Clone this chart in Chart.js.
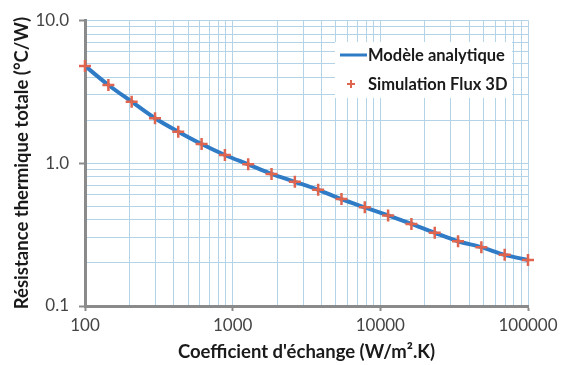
<!DOCTYPE html>
<html>
<head>
<meta charset="utf-8">
<script src="https://cdn.jsdelivr.net/npm/chart.js@4/dist/chart.umd.min.js"></script>
<style>
  html, body { margin: 0; padding: 0; background: #fff; }
  #wrap { width: 562px; height: 365px; position: relative; }
</style>
</head>
<body>
<div id="wrap"><canvas id="c"></canvas></div>
<script>
"use strict";

// coefficient d'échange (W/m².K)
const hValues = [100, 144, 207, 298, 428, 616, 886, 1274, 1833, 2637, 3793, 5456, 7848, 11288, 16238, 23357, 33598, 48329, 69519, 100000];
// modèle analytique (°C/W)
const modelValues = [4.79, 3.52, 2.69, 2.06, 1.66, 1.36, 1.14, 0.98, 0.84, 0.74, 0.65, 0.56, 0.49, 0.43, 0.375, 0.325, 0.284, 0.258, 0.228, 0.21];
// simulation Flux 3D (°C/W)
const fluxValues = [4.79, 3.52, 2.69, 2.06, 1.66, 1.36, 1.14, 0.98, 0.84, 0.74, 0.65, 0.56, 0.49, 0.43, 0.375, 0.325, 0.284, 0.258, 0.228, 0.21];

const xMajorTicks = [100, 1000, 10000, 100000];
const yMajorTicks = [0.1, 1, 10];
const yTickLabels = ["0.1", "1.0", "10.0"];

const FONT = "Lato, 'Open Sans', sans-serif";
const GRID = "#b3d3e6";
const AXIS = "#8a8a8a";
const BLUE = "#2f7bc6";
const RED = "#e0654f";

// decade ticks plus 2..9 subdivisions for the grid
function logTicks(majors) {
  const out = [];
  majors.forEach((m, i) => {
    out.push({ value: m, major: true });
    if (i < majors.length - 1) for (let k = 2; k <= 9; k++) out.push({ value: +(m * k).toPrecision(6), major: false });
  });
  return out;
}

const isMajor = (list, v) => list.some((m) => Math.abs(m - v) / m < 1e-6);

const legendBox = {
  id: "legendBox",
  afterDraw(chart) {
    const ctx = chart.ctx;
    ctx.save();
    ctx.fillStyle = "#fff";
    ctx.fillRect(335, 42, 177, 56);
    ctx.font = "bold 16.5px " + FONT;
    ctx.textBaseline = "middle";
    ctx.fillStyle = "#1a1a1a";
    const ds = chart.data.datasets;
    // line sample
    ctx.strokeStyle = BLUE;
    ctx.lineWidth = 3;
    ctx.beginPath();
    ctx.moveTo(340, 55);
    ctx.lineTo(367, 55);
    ctx.stroke();
    ctx.fillText(ds[0].label, 368, 56);
    // cross sample
    ctx.strokeStyle = RED;
    ctx.lineWidth = 2;
    ctx.beginPath();
    ctx.moveTo(347, 84);
    ctx.lineTo(355, 84);
    ctx.moveTo(351, 80);
    ctx.lineTo(351, 88);
    ctx.stroke();
    ctx.fillText(ds[1].label, 368, 85);
    ctx.restore();
  },
};

new Chart(document.getElementById("c"), {
  type: "line",
  data: {
    datasets: [
      {
        label: "Modèle analytique",
        data: hValues.map((x, i) => ({ x, y: modelValues[i] })),
        borderColor: BLUE,
        borderWidth: 4,
        pointRadius: 0,
        cubicInterpolationMode: "monotone",
        order: 2,
      },
      {
        label: "Simulation Flux 3D",
        data: hValues.map((x, i) => ({ x, y: fluxValues[i] })),
        showLine: false,
        clip: false,
        pointStyle: "cross",
        pointRadius: 6,
        pointBorderWidth: 2.5,
        pointBorderColor: RED,
        pointBackgroundColor: RED,
        order: 1,
      },
    ],
  },
  options: {
    responsive: true,
    maintainAspectRatio: false,
    animation: false,
    layout: { padding: { top: 20, right: 34, left: 0, bottom: 0 } },
    plugins: { legend: { display: false }, tooltip: { enabled: false } },
    scales: {
      x: {
        type: "logarithmic",
        min: 100,
        max: 100000,
        afterBuildTicks: (s) => { s.ticks = logTicks(xMajorTicks); },
        afterFit: (s) => { s.height = 59; },
        border: { color: AXIS, width: 3 },
        grid: {
          color: GRID,
          lineWidth: 1,
          tickLength: 5,
          tickColor: (c) => (isMajor(xMajorTicks, c.tick.value) ? AXIS : "rgba(0,0,0,0)"),
          tickWidth: 2,
        },
        ticks: {
          autoSkip: false,
          maxRotation: 0,
          padding: 4,
          color: "#444",
          font: { family: FONT, size: 17 },
          callback: (v) => (isMajor(xMajorTicks, v) ? String(v) : ""),
        },
        title: {
          display: true,
          text: "Coefficient d'échange (W/m².K)",
          color: "#1a1a1a",
          font: { family: FONT, size: 18.5, weight: "bold" },
          padding: { top: 0, bottom: 2 },
        },
      },
      y: {
        type: "logarithmic",
        min: 0.1,
        max: 10,
        afterBuildTicks: (s) => { s.ticks = logTicks(yMajorTicks); },
        afterFit: (s) => { s.width = 85; },
        border: { color: AXIS, width: 3 },
        grid: {
          color: GRID,
          lineWidth: 1,
          tickLength: 6,
          tickColor: (c) => (isMajor(yMajorTicks, c.tick.value) ? AXIS : "rgba(0,0,0,0)"),
          tickWidth: 2,
        },
        ticks: {
          autoSkip: false,
          padding: 10,
          color: "#444",
          font: { family: FONT, size: 17 },
          callback: (v) => {
            const i = yMajorTicks.findIndex((m) => Math.abs(m - v) / m < 1e-6);
            return i >= 0 ? yTickLabels[i] : "";
          },
        },
        title: {
          display: true,
          text: "Résistance thermique totale (°C/W)",
          color: "#1a1a1a",
          font: { family: FONT, size: 18.5, weight: "bold" },
          padding: { top: 11, bottom: 0 },
        },
      },
    },
  },
  plugins: [legendBox],
});
</script>
</body>
</html>
